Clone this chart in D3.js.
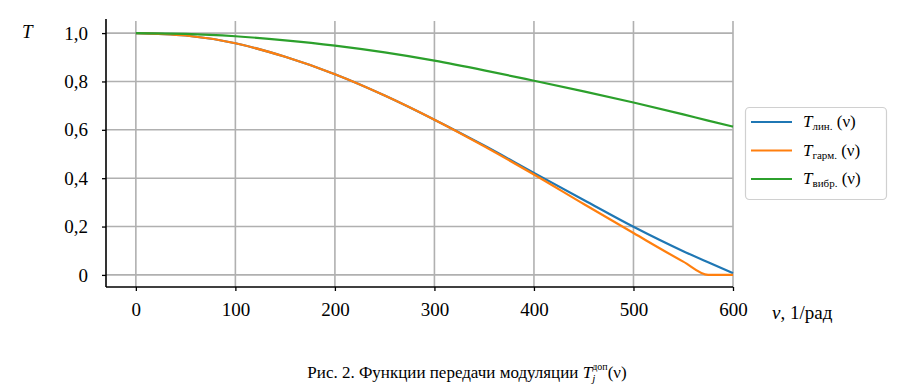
<!DOCTYPE html>
<html><head><meta charset="utf-8">
<script src="https://cdn.jsdelivr.net/npm/d3@7"></script>
<style>body{margin:0;background:#fff}svg text{font-family:'Liberation Serif','Times New Roman',Tinos,'DejaVu Serif',serif}</style>
</head><body><svg id="c" width="900" height="392"></svg>
<script>
const nu   = [0, 50, 100, 150, 200, 250, 300, 350, 400, 450, 500, 550, 575, 600];
const tLin = [1.0, 0.99, 0.958, 0.902, 0.83, 0.742, 0.642, 0.535, 0.422, 0.31, 0.199, 0.098, 0.052, 0.007];
const tGarm= [1.0, 0.99, 0.958, 0.902, 0.83, 0.742, 0.642, 0.532, 0.415, 0.293, 0.173, 0.055, 0.0, 0.0];
const tVibr= [1.0, 0.997, 0.987, 0.97, 0.948, 0.92, 0.886, 0.846, 0.803, 0.759, 0.713, 0.664, 0.638, 0.613];
const xTicks = [0, 100, 200, 300, 400, 500, 600];
const yTicks = [0, 0.2, 0.4, 0.6, 0.8, 1.0];
const yTickLabels = ["0", "0,2", "0,4", "0,6", "0,8", "1,0"];
const seriesNames = ["лин.", "гарм.", "вибр."];
const colors = ["#1f77b4", "#ff7f0e", "#2ca02c"];

const FONT = "'Liberation Serif','Times New Roman',Tinos,'DejaVu Serif',serif";
const svg = d3.select("#c");
const x = d3.scaleLinear().domain([-30, 600]).range([106, 733]);
const y = d3.scaleLinear().domain([-0.05, 1.05]).range([287, 21]);

// grid
const g = svg.append("g");
g.selectAll(".vg").data(xTicks).join("line")
  .attr("x1", d => x(d)).attr("x2", d => x(d)).attr("y1", y(1.05)).attr("y2", y(-0.05))
  .attr("stroke", "#b0b0b0").attr("stroke-width", 1.6);
g.selectAll(".hg").data(yTicks).join("line")
  .attr("x1", x(-30)).attr("x2", x(600)).attr("y1", d => y(d)).attr("y2", d => y(d))
  .attr("stroke", "#b0b0b0").attr("stroke-width", 1.6);

// axes
const xAxis = d3.axisBottom(x).tickValues(xTicks).tickSize(4).tickPadding(12).tickFormat(d3.format("d"));
const yAxis = d3.axisLeft(y).tickValues(yTicks).tickSize(4).tickPadding(14).tickFormat((d, i) => yTickLabels[i]);
const xa = svg.append("g").attr("transform", `translate(0,${y(-0.05)})`).call(xAxis);
const ya = svg.append("g").attr("transform", `translate(${x(-30)},0)`).call(yAxis);
[xa, ya].forEach(a => {
  a.attr("font-family", FONT).attr("font-size", 19);
  a.select(".domain").remove();
  a.selectAll(".tick line").attr("stroke", "#000").attr("stroke-width", 1.3);
  a.selectAll(".tick text").attr("fill", "#000");
});
// spines
svg.append("line").attr("x1", x(-30)).attr("x2", x(-30)).attr("y1", y(1.05) - 2).attr("y2", y(-0.05))
  .attr("stroke", "#000").attr("stroke-width", 1.6);
svg.append("line").attr("x1", x(-30)).attr("x2", x(600)).attr("y1", y(-0.05)).attr("y2", y(-0.05))
  .attr("stroke", "#000").attr("stroke-width", 1.6);

// lines
const line = vals => d3.line().x((d, i) => x(nu[i])).y(d => y(d)).curve(d3.curveMonotoneX)(vals);
[tLin, tGarm, tVibr].forEach((vals, k) => {
  svg.append("path").attr("d", line(vals)).attr("fill", "none")
    .attr("stroke", colors[k]).attr("stroke-width", 2.2);
});

// axis labels
svg.append("text").attr("font-family", FONT).attr("x", 22).attr("y", 38).attr("font-size", 19).attr("font-style", "italic").text("T");
const xl = svg.append("text").attr("font-family", FONT).attr("x", 772).attr("y", 319).attr("font-size", 19);
xl.append("tspan").attr("font-style", "italic").text("ν");
xl.append("tspan").text(", 1/рад");

// legend
const lg = svg.append("g").attr("font-family", FONT);
lg.append("rect").attr("x", 745.5).attr("y", 107.5).attr("width", 141).attr("height", 92).attr("rx", 4)
  .attr("fill", "#fff").attr("stroke", "#d0d0d0").attr("stroke-width", 1.2);
seriesNames.forEach((n, i) => {
  const yy = 122 + i * 28.5;
  lg.append("line").attr("x1", 751).attr("x2", 792).attr("y1", yy).attr("y2", yy)
    .attr("stroke", colors[i]).attr("stroke-width", 2.2);
  const t = lg.append("text").attr("x", 803).attr("y", yy + 5).attr("font-size", 17);
  t.append("tspan").attr("font-style", "italic").text("T");
  t.append("tspan").attr("dy", 3).attr("font-size", 11).text(n);
  t.append("tspan").attr("dy", -3).text(" (ν)");
});

// caption
const cap = svg.append("text").attr("font-family", FONT).attr("x", 467).attr("y", 378)
  .attr("text-anchor", "middle").attr("font-size", 17);
cap.append("tspan").text("Рис. 2. Функции передачи модуляции ");
cap.append("tspan").attr("font-style", "italic").text("T");
cap.append("tspan").attr("dy", 4).attr("font-size", 11).attr("font-style", "italic").text("j");
cap.append("tspan").attr("dx", -3).attr("dy", -12).attr("font-size", 10).text("доп");
cap.append("tspan").attr("dy", 8).text("(ν)");
</script></body></html>
